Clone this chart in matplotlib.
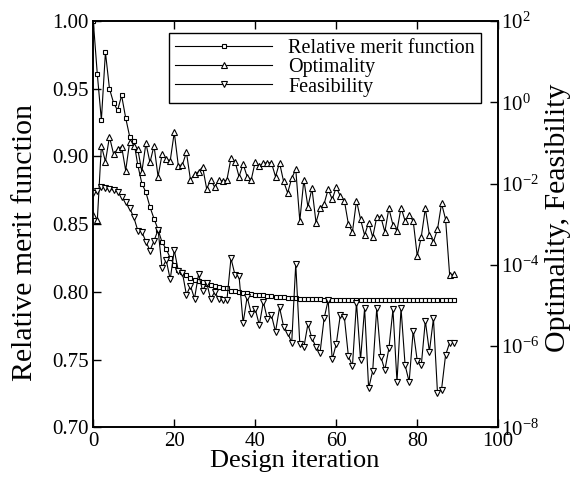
import numpy as np
import matplotlib
matplotlib.use("Agg")
import matplotlib.pyplot as plt
from matplotlib.ticker import FixedLocator, NullLocator, FuncFormatter

plt.rcParams["font.family"] = ["Liberation Serif", "DejaVu Serif"]
plt.rcParams["mathtext.fontset"] = "custom"
plt.rcParams["mathtext.rm"] = "Liberation Serif"
plt.rcParams["mathtext.it"] = "Liberation Serif:italic"

# relative merit function (left axis)
merit = [1.000, 0.9606, 0.9268, 0.977, 0.950, 0.9397, 0.934, 0.945, 0.9285, 0.9145,
         0.9113, 0.8935, 0.880, 0.8735, 0.8627, 0.854, 0.846, 0.8365, 0.8317, 0.825,
         0.820, 0.8164, 0.815, 0.8125, 0.810, 0.809, 0.808, 0.807, 0.806, 0.805,
         0.804, 0.8035, 0.803, 0.8025, 0.801, 0.8005, 0.800, 0.7995, 0.799, 0.7985,
         0.798, 0.7977, 0.7974, 0.7971, 0.7968, 0.7965, 0.7962, 0.796, 0.7957, 0.7955,
         0.7953, 0.7951, 0.7949, 0.7947, 0.7946, 0.7945, 0.7944, 0.7943, 0.7942, 0.7941,
         0.794, 0.794, 0.794, 0.794, 0.794, 0.794, 0.794, 0.794, 0.794, 0.794,
         0.7939, 0.7939, 0.7939, 0.7939, 0.7939, 0.7939, 0.7939, 0.7939, 0.7939, 0.7939,
         0.7938, 0.7938, 0.7938, 0.7938, 0.7938, 0.7938, 0.7938, 0.7938, 0.7938, 0.7938]

# log10 of optimality (right axis)
opt_log = [-2.77, -2.90, -1.07, -1.46, -0.85, -1.27, -1.16, -1.09, -1.68, -0.97,
           -1.08, -1.16, -1.71, -1.01, -1.48, -1.07, -1.83, -1.27, -1.40, -1.44,
           -0.74, -1.56, -1.54, -1.23, -1.91, -1.77, -1.71, -1.59, -2.13, -1.91,
           -2.09, -1.91, -1.95, -1.91, -1.38, -1.46, -1.83, -1.52, -1.83, -1.91,
           -1.46, -1.57, -1.50, -1.49, -1.49, -1.83, -1.49, -1.95, -2.23, -1.87,
           -1.65, -2.92, -1.91, -2.57, -2.12, -2.96, -2.61, -2.50, -2.14, -2.39,
           -2.09, -2.31, -2.42, -3.00, -3.19, -2.42, -2.88, -3.27, -2.96, -3.32,
           -2.83, -2.82, -3.19, -2.61, -3.02, -3.16, -2.59, -2.92, -2.78, -2.92,
           -3.78, -3.31, -2.61, -3.27, -3.43, -3.13, -2.49, -2.88, -4.25, -4.23]

# log10 of feasibility (right axis)
feas_log = [-2.23, -2.18, -2.08, -2.12, -2.14, -2.16, -2.20, -2.32, -2.45, -2.61,
            -2.83, -3.16, -3.19, -3.43, -3.65, -3.41, -3.14, -4.09, -3.88, -4.36,
            -3.64, -4.15, -4.19, -4.74, -4.52, -4.83, -4.23, -4.64, -4.44, -4.85,
            -4.66, -4.85, -4.87, -4.87, -3.84, -4.25, -4.28, -5.43, -4.79, -5.20,
            -5.09, -5.48, -4.91, -5.34, -5.24, -5.65, -5.05, -5.52, -5.67, -5.92,
            -3.98, -5.95, -6.03, -5.46, -5.81, -6.02, -6.16, -5.32, -4.87, -6.33,
            -5.95, -5.24, -5.29, -6.25, -6.49, -4.93, -6.34, -5.07, -7.04, -6.61,
            -5.07, -6.26, -6.59, -6.06, -5.10, -6.88, -5.07, -6.47, -6.88, -5.62,
            -6.36, -6.47, -5.38, -6.14, -5.32, -7.15, -7.07, -6.22, -5.92, -5.92]

iters = np.arange(len(merit))
optimality = 10.0 ** np.array(opt_log)
feasibility = 10.0 ** np.array(feas_log)

x_ticks = [0, 20, 40, 60, 80, 100]
left_ticks = [0.70, 0.75, 0.80, 0.85, 0.90, 0.95, 1.00]
right_ticks = [1e-8, 1e-6, 1e-4, 1e-2, 1e0, 1e2]

fig = plt.figure(figsize=(5.74, 4.83), dpi=100)
ax = fig.add_axes([0.1625, 0.1153, 0.7055, 0.8412])
ax2 = ax.twinx()

lw = 0.8
l1, = ax.plot(iters, merit, color="black", lw=lw, marker="s", ms=3.2,
              mfc="white", mec="black", mew=0.8, label="Relative merit function")
l2, = ax2.plot(iters, optimality, color="black", lw=lw, marker="^", ms=4.2,
               mfc="white", mec="black", mew=0.8, label="Optimality")
l3, = ax2.plot(iters, feasibility, color="black", lw=lw, marker="v", ms=4.2,
               mfc="white", mec="black", mew=0.8, label="Feasibility")

ax.set_xlim(0, 100)
ax.set_ylim(0.70, 1.00)
ax.set_xticks(x_ticks)
ax.set_yticks(left_ticks)
ax.yaxis.set_major_formatter(FuncFormatter(lambda v, p: "%.2f" % v))
ax.tick_params(direction="in", length=6, width=1, labelsize=15, top=True, right=False)

ax2.set_yscale("log")
ax2.set_ylim(1e-8, 1e2)
ax2.yaxis.set_major_locator(FixedLocator(right_ticks))
ax2.yaxis.set_minor_locator(NullLocator())
ax2.yaxis.set_major_formatter(FuncFormatter(lambda v, p: r"$10^{%d}$" % round(np.log10(v))))
ax2.tick_params(direction="in", length=6, width=1, labelsize=15, pad=2)

for a in (ax, ax2):
    for s in a.spines.values():
        s.set_linewidth(1.2)

ax.set_xlabel("Design iteration", fontsize=19)
ax.xaxis.set_label_coords(0.497, -0.057)
ax.set_ylabel("Relative merit function", fontsize=21.5)
ax.yaxis.set_label_coords(-0.136, 0.456)
ax2.set_ylabel("Optimality, Feasibility", fontsize=21.5)
ax2.yaxis.set_label_coords(1.115, 0.515)

leg = ax2.legend(handles=[l1, l2, l3], loc="upper right", bbox_to_anchor=(0.957, 0.970),
                 borderaxespad=0, fontsize=14.5, handlelength=4.8, handletextpad=0.8,
                 labelspacing=0.0, borderpad=0.3, fancybox=False, framealpha=1,
                 edgecolor="black", markerscale=0.9)
leg.get_frame().set_linewidth(1.0)

fig.savefig("out.png", dpi=100)
